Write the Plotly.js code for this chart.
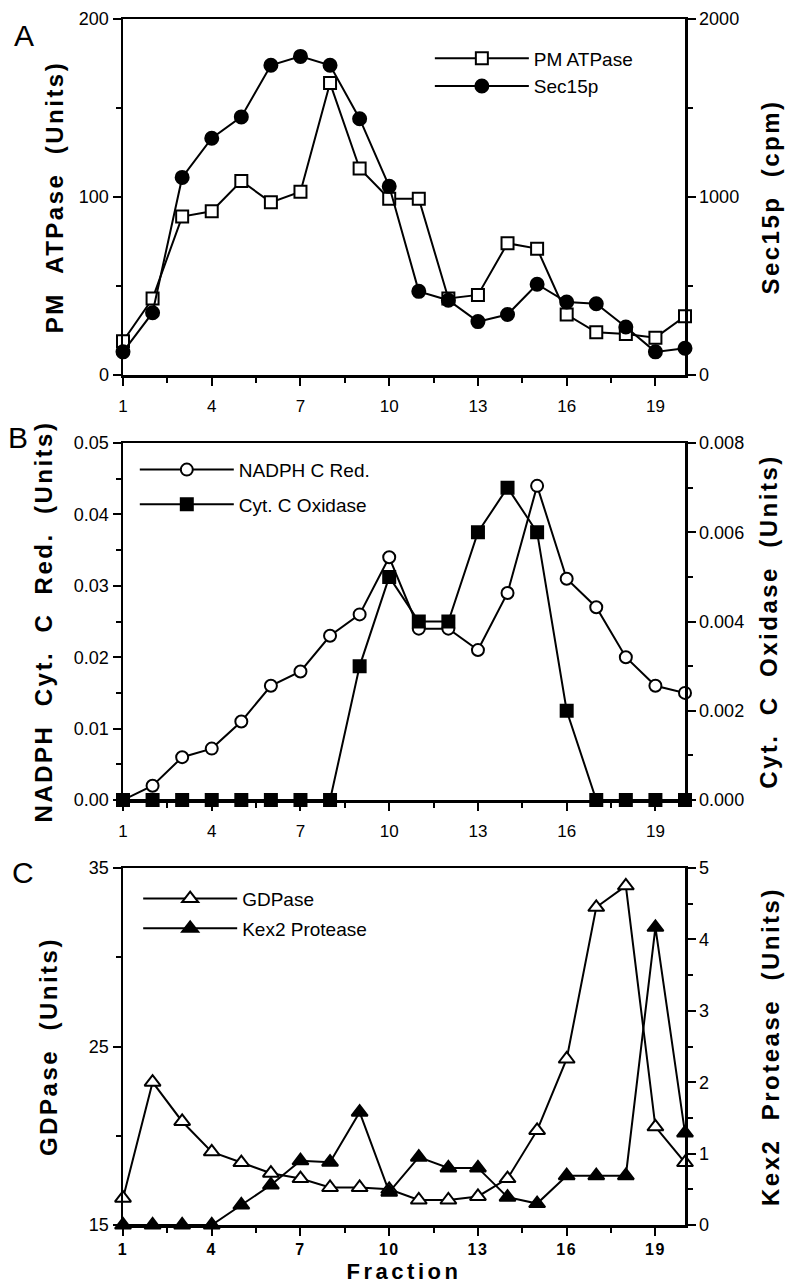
<!DOCTYPE html>
<html><head><meta charset="utf-8">
<script src="https://cdn.plot.ly/plotly-3.0.1.min.js"></script>
<style>
body{margin:0;background:#fff}
#chart{width:791px;height:1284px}
text.ytitle,text.y2title,text.y3title,text.y4title,text.y5title,text.y6title{letter-spacing:2.5px}
text.x3title{letter-spacing:3.5px}
g.x3tick text{letter-spacing:1.5px}
</style></head><body><div id="chart"></div>
<script>
const fraction = [1,2,3,4,5,6,7,8,9,10,11,12,13,14,15,16,17,18,19,20];
const pmATPase = [19, 43, 89, 92, 109, 97, 103, 164, 116, 99, 99, 43, 45, 74, 71, 34, 24, 23, 21, 33];
const sec15p = [130, 350, 1110, 1330, 1450, 1740, 1790, 1740, 1440, 1060, 470, 420, 300, 340, 510, 410, 400, 270, 130, 150];
const nadphCRed = [0, 0.002, 0.006, 0.0072, 0.011, 0.016, 0.018, 0.023, 0.026, 0.034, 0.024, 0.024, 0.021, 0.029, 0.044, 0.031, 0.027, 0.020, 0.016, 0.015];
const cytCOxidase = [0, 0, 0, 0, 0, 0, 0, 0, 0.003, 0.005, 0.004, 0.004, 0.006, 0.007, 0.006, 0.002, 0, 0, 0, 0];
const gdpase = [16.5, 23, 20.8, 19.1, 18.5, 17.9, 17.6, 17.1, 17.1, 17, 16.4, 16.4, 16.6, 17.6, 20.3, 24.3, 32.8, 34, 20.5, 18.5];
const kex2Protease = [0, 0, 0, 0, 0.28, 0.56, 0.9, 0.88, 1.58, 0.46, 0.95, 0.8, 0.8, 0.39, 0.3, 0.69, 0.69, 0.69, 4.17, 1.29];
const xTickVals = [1, 4, 7, 10, 13, 16, 19];

const FONT = 'Liberation Sans, Arial, Helvetica, sans-serif';
const tickFont = {family: FONT, size: 18, color: '#000'};
const titleFont = {family: FONT, size: 24, color: '#000', weight: 'bold'};

function line(x, y, name, symbol, filled, size, yaxis, xaxis, legend, group) {
  return {
    x: x, y: y, name: name, type: 'scatter', mode: 'lines+markers',
    xaxis: xaxis, yaxis: yaxis, legend: legend, legendgroup: group, cliponaxis: false,
    line: {color: '#000', width: 2},
    marker: {symbol: symbol, size: size, color: filled ? '#000' : '#fff', line: {color: '#000', width: 2}}
  };
}

const data = [
  line(fraction, pmATPase, 'PM ATPase', 'square', false, 12, 'y', 'x', 'legend', 'a1'),
  line(fraction, sec15p, 'Sec15p', 'circle', true, 13, 'y2', 'x', 'legend', 'a2'),
  line(fraction, nadphCRed, 'NADPH C Red.', 'circle', false, 12, 'y3', 'x2', 'legend2', 'b1'),
  line(fraction, cytCOxidase, 'Cyt. C Oxidase', 'square', true, 12, 'y4', 'x2', 'legend2', 'b2'),
  line(fraction, gdpase, 'GDPase', 'triangle-up', false, 14, 'y5', 'x3', 'legend3', 'c1'),
  line(fraction, kex2Protease, 'Kex2 Protease', 'triangle-up', true, 14, 'y6', 'x3', 'legend3', 'c2')
];

function xax(anchor, bold, standoff) {
  return {
    anchor: anchor, domain: [0, 1], range: [1, 20], tickvals: xTickVals,
    ticks: 'outside', ticklen: 8, tickwidth: 2, tickcolor: '#000', ticklabelstandoff: standoff,
    minor: {tick0: 1, dtick: 1.5, ticks: 'outside', ticklen: 5, tickwidth: 2, tickcolor: '#000'},
    showline: true, linewidth: 2.5, linecolor: '#000', mirror: true,
    showgrid: false, zeroline: false, fixedrange: true,
    tickfont: bold ? {family: FONT, size: 16, color: '#000', weight: 'bold'} : {family: FONT, size: 17, color: '#000'}
  };
}
function yax(domain, range, dtick, minor, fmt, title, standoff, side, overlay, anchor, tickvals) {
  const a = {
    domain: domain, range: range, side: side, anchor: anchor,
    ticks: 'outside', ticklen: 8, tickwidth: 2, tickcolor: '#000',
    minor: {dtick: minor, ticks: 'outside', ticklen: 5, tickwidth: 2, tickcolor: '#000'},
    showline: true, linewidth: 2.5, linecolor: '#000',
    showgrid: false, zeroline: false, fixedrange: true,
    tickfont: tickFont, tickformat: fmt, ticklabelstandoff: 0,
    title: {text: title, font: titleFont, standoff: standoff}
  };
  if (tickvals) a.tickvals = tickvals; else a.dtick = dtick;
  if (overlay) a.overlaying = overlay;
  return a;
}

const dA = [0.7048, 1], dB = [0.3524, 0.6484], dC = [0, 0.296];
const S = '\u00a0\u00a0';

const legendBase = {
  font: {family: FONT, size: 19, color: '#000'}, bgcolor: 'rgba(0,0,0,0)',
  itemwidth: 94, xanchor: 'left', yanchor: 'top', itemclick: false, itemdoubleclick: false
};
const letterFont = {family: FONT, size: 30, color: '#000'};

const layout = {
  width: 791, height: 1284,
  margin: {l: 123, r: 106, t: 19, b: 59},
  paper_bgcolor: '#fff', plot_bgcolor: '#fff',
  font: {family: FONT, color: '#000'},
  showlegend: true,
  xaxis: xax('y', false, 6),
  xaxis2: xax('y3', false, 6),
  xaxis3: Object.assign(xax('y5', true, 0), {title: {text: 'Fraction', font: {family: FONT, size: 22, weight: 'bold', color: '#000'}, standoff: 7}}),
  yaxis: yax(dA, [0, 200], 100, 50, 'd', 'PM' + S + 'ATPase' + S + '(Units)', 9, 'left', null, 'x'),
  yaxis2: yax(dA, [0, 2000], 1000, 500, 'd', 'Sec15p' + S + '(cpm)', 24, 'right', 'y', 'x'),
  yaxis3: yax(dB, [0, 0.05], 0.01, 0.005, '.2f', 'NADPH' + S + 'Cyt.' + S + 'C' + S + 'Red.' + S + '(Units)', 15, 'left', null, 'x2'),
  yaxis4: yax(dB, [0, 0.008], 0.002, 0.001, '.3f', 'Cyt.' + S + 'C' + S + 'Oxidase' + S + '(Units)', 17, 'right', 'y3', 'x2'),
  yaxis5: yax(dC, [15, 35], null, 5, 'd', 'GDPase' + S + '(Units)', 25, 'left', null, 'x3', [15, 25, 35]),
  yaxis6: yax(dC, [0, 5], 1, 0.5, 'd', 'Kex2' + S + 'Protease' + S + '(Units)', 54, 'right', 'y5', 'x3'),
  legend: Object.assign({}, legendBase, {x: 0.546, y: 0.983, tracegroupgap: 0}),
  legend2: Object.assign({}, legendBase, {x: 0.021, y: 0.642, tracegroupgap: 7}),
  legend3: Object.assign({}, legendBase, {x: 0.027, y: 0.2863, tracegroupgap: 2}),
  annotations: [
    {text: 'A', x: -0.176, y: 0.986, xref: 'paper', yref: 'paper', xanchor: 'center', yanchor: 'middle', showarrow: false, font: letterFont},
    {text: 'B', x: -0.187, y: 0.6526, xref: 'paper', yref: 'paper', xanchor: 'center', yanchor: 'middle', showarrow: false, font: letterFont},
    {text: 'C', x: -0.178, y: 0.2927, xref: 'paper', yref: 'paper', xanchor: 'center', yanchor: 'middle', showarrow: false, font: letterFont}
  ]
};

Plotly.newPlot('chart', data, layout, {staticPlot: true, displayModeBar: false});
</script></body></html>
